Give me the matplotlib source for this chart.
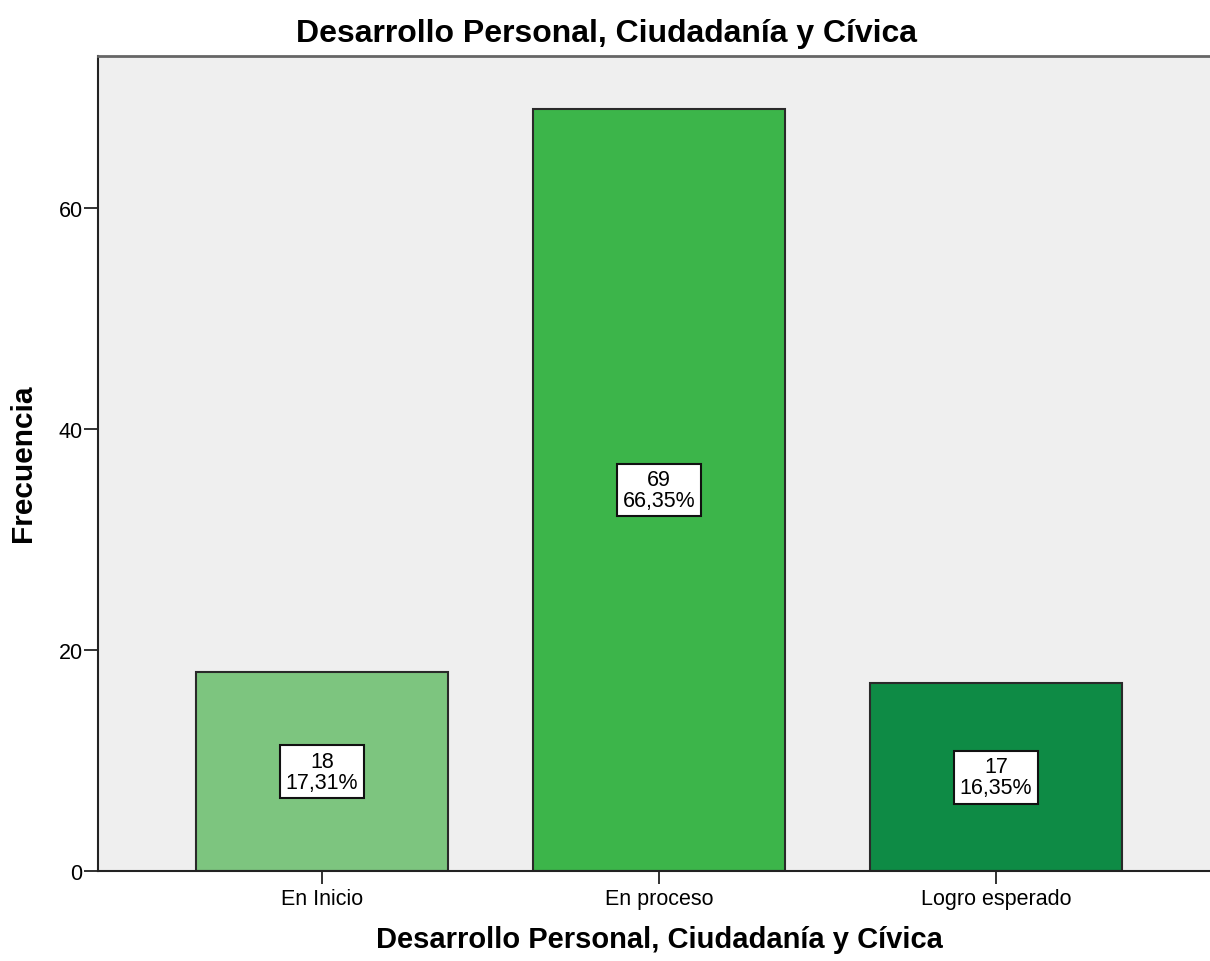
import matplotlib
matplotlib.use("Agg")
import matplotlib.pyplot as plt

categories = ["En Inicio", "En proceso", "Logro esperado"]
counts = [18, 69, 17]
percents = ["17,31%", "66,35%", "16,35%"]
colors = ["#7dc57f", "#3cb54a", "#0e8b45"]
yticks = [0, 20, 40, 60]

plt.rcParams['font.family'] = ['Liberation Sans', 'DejaVu Sans']

fig = plt.figure(figsize=(12.10, 9.62), dpi=100)
W, H = 1210, 962
ax = fig.add_axes([98 / W, (H - 872) / H, (W - 98) / W, (872 - 57) / H])
ax.set_facecolor("#efefef")

x = list(range(len(categories)))
ax.bar(x, counts, width=0.75, color=colors, edgecolor="#2a2a2a", linewidth=1.5, zorder=2)
for xi, c, p in zip(x, counts, percents):
    ax.text(xi, c / 2, f"{c}\n{p}", ha="center", va="center", fontsize=15.5,
            linespacing=1.0,
            bbox=dict(boxstyle="square,pad=0.25", facecolor="white", edgecolor="#111111", linewidth=1.5),
            zorder=3)

ax.set_xlim(-0.665, 2.635)
ax.set_ylim(0, 73.8)
ax.set_xticks(x)
ax.set_xticklabels(categories, fontsize=15.5)
ax.set_yticks(yticks)
ax.set_yticklabels([str(t) for t in yticks], fontsize=15.5)
ax.tick_params(axis="x", direction="out", length=9, width=1.3, color="#222222", pad=3)
ax.tick_params(axis="y", direction="out", length=10, width=1.3, color="#222222", pad=1)
ax.spines["right"].set_visible(False)
ax.spines["top"].set_color("#666666")
ax.spines["top"].set_linewidth(2)
ax.spines["left"].set_color("#222222")
ax.spines["left"].set_linewidth(1.5)
ax.spines["bottom"].set_color("#222222")
ax.spines["bottom"].set_linewidth(1.5)

fig.text(607 / W, 1 - 34 / H, "Desarrollo Personal, Ciudadanía y Cívica",
         ha="center", va="center", fontsize=23, fontweight="bold")
fig.text(659 / W, 1 - 940 / H, "Desarrollo Personal, Ciudadanía y Cívica",
         ha="center", va="center", fontsize=21, fontweight="bold")
fig.text(23 / W, 1 - 463 / H, "Frecuencia", ha="center", va="center",
         rotation=90, fontsize=21.5, fontweight="bold")

fig.savefig("out.png", dpi=100)
